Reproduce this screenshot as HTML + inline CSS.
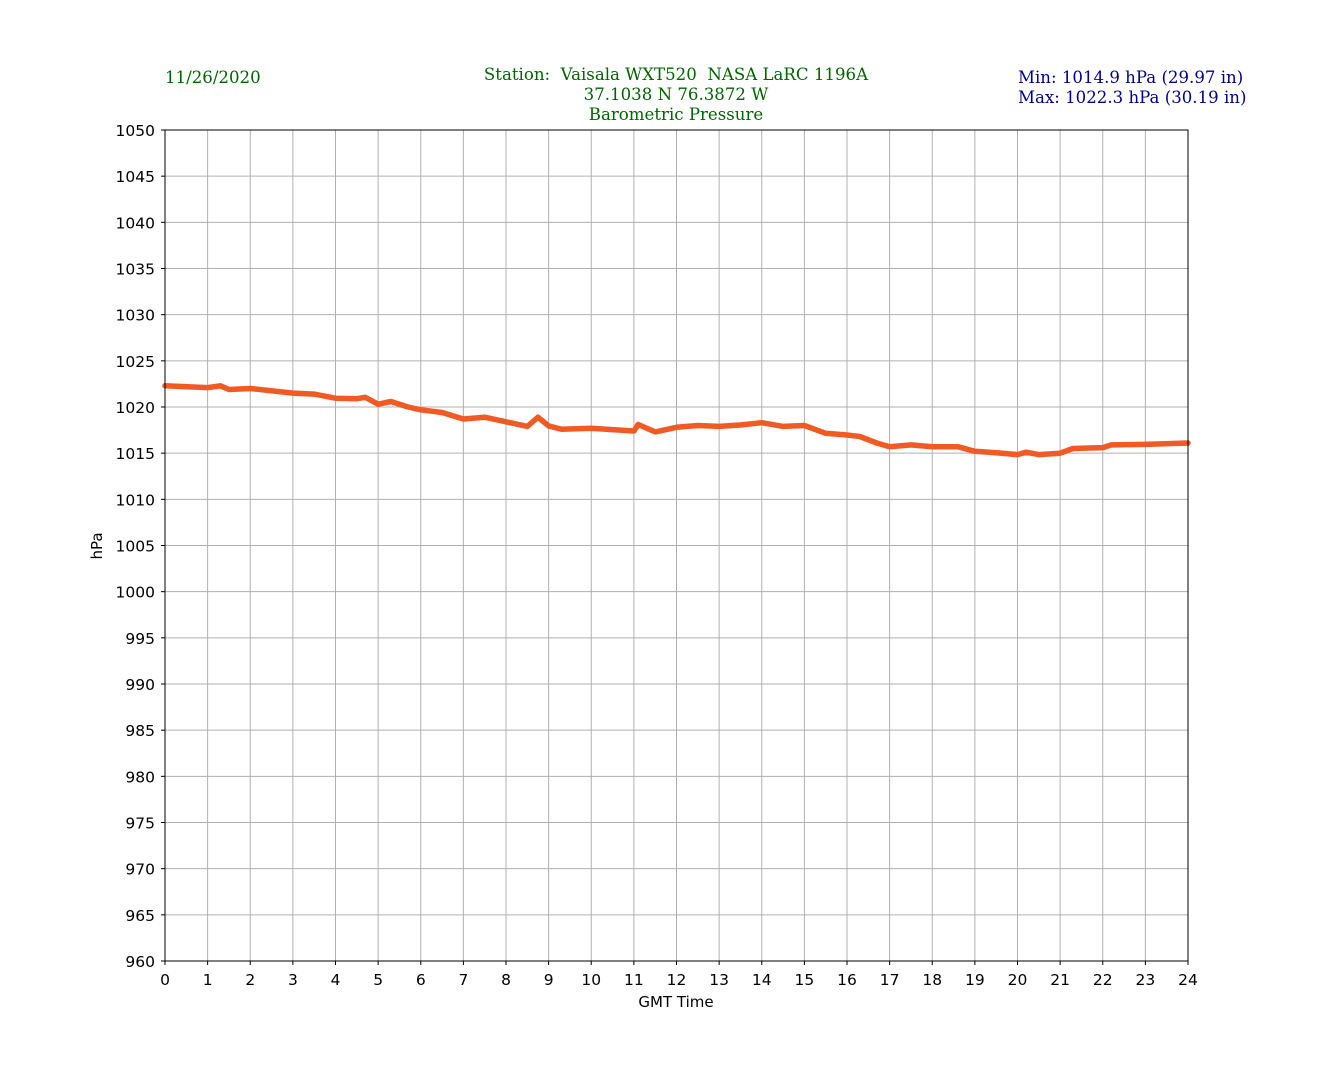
<!DOCTYPE html>
<html><head><meta charset="utf-8"><style>
body{margin:0;background:#fff;}
svg text{font-family:"DejaVu Sans","Liberation Sans",sans-serif;}
.hd{font-family:"DejaVu Serif","Liberation Serif",serif;font-size:16.6px;white-space:pre;}
</style></head><body>
<svg id="chart" width="1320" height="1080" xmlns="http://www.w3.org/2000/svg">
<rect width="1320" height="1080" fill="#fff"/>
<text class="hd" x="165" y="83" fill="#006400">11/26/2020</text>
<text class="hd" x="676" y="80" text-anchor="middle" fill="#006400" xml:space="preserve">Station:  Vaisala WXT520  NASA LaRC 1196A</text>
<text class="hd" x="676" y="100" text-anchor="middle" fill="#006400">37.1038 N 76.3872 W</text>
<text class="hd" x="676" y="120" text-anchor="middle" fill="#006400">Barometric Pressure</text>
<text class="hd" x="1018" y="83" fill="#00008b">Min: 1014.9 hPa (29.97 in)</text>
<text class="hd" x="1018" y="103" fill="#00008b">Max: 1022.3 hPa (30.19 in)</text>
<g id="grid"></g>
<g id="series"></g>
<rect x="165" y="130" width="1023" height="831" fill="none" stroke="#000" stroke-width="1"/>
<g id="ticks"></g>
<text x="676" y="1007" text-anchor="middle" font-size="15">GMT Time</text>
<text transform="translate(102,546) rotate(-90)" text-anchor="middle" font-size="15">hPa</text>
</svg>
<script>
const hours=[0,1,1.3,1.5,2,3,3.5,4,4.5,4.7,5,5.3,5.7,6,6.5,7,7.5,8,8.5,8.75,9,9.3,10,11,11.1,11.5,12,12.5,13,13.5,14,14.5,15,15.5,16,16.3,16.7,17,17.5,18,18.6,19,19.5,20,20.2,20.5,21,21.3,22,22.2,23,24];
const pressure=[1022.3,1022.1,1022.3,1021.9,1022.0,1021.5,1021.4,1020.95,1020.9,1021.05,1020.3,1020.6,1020.0,1019.7,1019.4,1018.7,1018.9,1018.4,1017.9,1018.9,1017.95,1017.6,1017.7,1017.4,1018.1,1017.3,1017.8,1018.0,1017.9,1018.05,1018.3,1017.9,1018.0,1017.15,1016.97,1016.8,1016.1,1015.7,1015.9,1015.7,1015.7,1015.2,1015.05,1014.85,1015.1,1014.85,1015.0,1015.5,1015.6,1015.9,1015.95,1016.1];
const xTicks=[0,1,2,3,4,5,6,7,8,9,10,11,12,13,14,15,16,17,18,19,20,21,22,23,24];
const yTicks=[960,965,970,975,980,985,990,995,1000,1005,1010,1015,1020,1025,1030,1035,1040,1045,1050];
const NS="http://www.w3.org/2000/svg";
const X0=165,X1=1188,Y0=961,Y1=130;
const xs=h=>X0+(h-0)/24*(X1-X0);
const ys=p=>Y0-(p-960)/90*(Y0-Y1);
const grid=document.getElementById('grid'),ticks=document.getElementById('ticks'),series=document.getElementById('series');
function mk(tag,at,parent){const e=document.createElementNS(NS,tag);for(const k in at)e.setAttribute(k,at[k]);parent.appendChild(e);return e;}
xTicks.forEach(t=>{
 const x=xs(t);
 const g=mk('line',{x1:x,x2:x,y1:Y1,y2:Y0,stroke:'#b0b0b0','stroke-width':1},grid);
 
 
 const tk=mk('line',{x1:x,x2:x,y1:Y0,y2:Y0+4,stroke:'#000'},ticks);
 
 
 const tx=mk('text',{x:x,y:Y0+24,'text-anchor':'middle','font-size':15.5},ticks);
 tx.textContent=t;
 
 
});
yTicks.forEach(t=>{
 const y=ys(t);
 const g=mk('line',{x1:X0,x2:X1,y1:y,y2:y,stroke:'#b0b0b0','stroke-width':1},grid);
 
 
 const tk=mk('line',{x1:X0-4,x2:X0,y1:y,y2:y,stroke:'#000'},ticks);
 
 
 const tx=mk('text',{x:X0-10,y:y+6,'text-anchor':'end','font-size':15.5},ticks);
 tx.textContent=t;
 
 
});
const pts=hours.map((h,i)=>xs(h).toFixed(1)+','+ys(pressure[i]).toFixed(1)).join(' ');
const line=mk('polyline',{points:pts,fill:'none',stroke:'#f15a24','stroke-width':5.5,'stroke-linejoin':'round','stroke-linecap':'round'},series);


</script>
</body></html>
